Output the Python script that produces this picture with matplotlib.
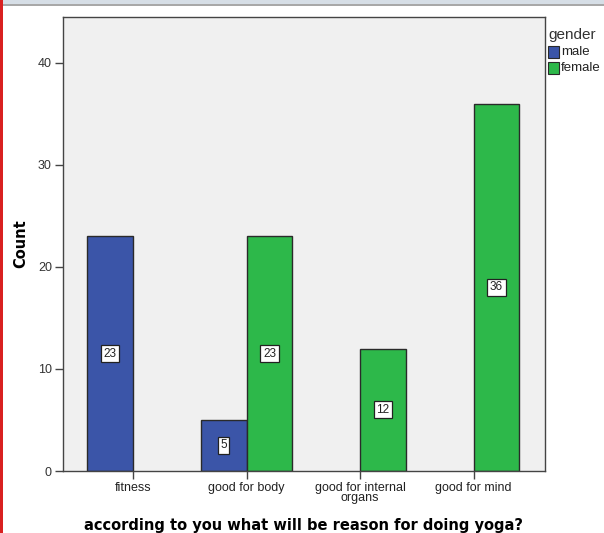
import matplotlib
matplotlib.use("Agg")
import matplotlib.pyplot as plt
import numpy as np
from matplotlib.patches import Rectangle

categories = ["fitness", "good for body", "good for internal\norgans", "good for mind"]
male = [23, 5, 0, 0]
female = [0, 23, 12, 36]
yticks = [0, 10, 20, 30, 40]

male_color = "#3B55A8"
female_color = "#2DB84A"
edge = "#2a2a2a"

fig = plt.figure(figsize=(6.04, 5.33), dpi=100)
fig.patch.set_facecolor("white")

# window chrome: top band and left red stripe
fig.add_artist(Rectangle((0, 1 - 4 / 533), 1, 4 / 533, transform=fig.transFigure,
                         facecolor="#D6DEE6", edgecolor="none"))
fig.add_artist(Rectangle((0, 1 - 6 / 533), 1, 2 / 533, transform=fig.transFigure,
                         facecolor="#A8A8A8", edgecolor="none"))
fig.add_artist(Rectangle((0, 0), 3 / 604, 1, transform=fig.transFigure,
                         facecolor="#D92020", edgecolor="none"))

ax = fig.add_axes([63 / 604, 62 / 533, 482 / 604, 454 / 533])
ax.set_facecolor("#F0F0F0")

x = np.arange(len(categories))
w = 0.405

label_kw = dict(ha="center", va="center", fontsize=8.5, family="Liberation Sans", color="#222222",
                bbox=dict(boxstyle="square,pad=0.22", facecolor="white", edgecolor="#222222", linewidth=0.9))

for xi, v in zip(x, male):
    if v > 0:
        ax.bar(xi - w / 2, v, width=w, color=male_color, edgecolor=edge, linewidth=1.0)
        ax.text(xi - w / 2, v / 2, str(v), **label_kw)
for xi, v in zip(x, female):
    if v > 0:
        ax.bar(xi + w / 2, v, width=w, color=female_color, edgecolor=edge, linewidth=1.0)
        ax.text(xi + w / 2, v / 2, str(v), **label_kw)

ax.set_xlim(-0.617, 3.63)
ax.set_ylim(0, 44.5)
ax.set_yticks(yticks)
ax.set_yticklabels([str(t) for t in yticks], fontsize=9, family="Liberation Sans", color="#333333")
ax.set_xticks(x)
ax.set_xticklabels(categories, fontsize=9, family="Liberation Sans", color="#222222", linespacing=0.8)
ax.tick_params(axis="both", direction="out", length=6, width=1.0, color="#444444", pad=2)

for s in ax.spines.values():
    s.set_color("#444444")
    s.set_linewidth(1.0)

ax.set_ylabel("Count", fontsize=10.5, fontweight="bold", family="DejaVu Sans", labelpad=7)
ax.set_xlabel("according to you what will be reason for doing yoga?", fontsize=10.5,
              fontweight="bold", family="DejaVu Sans", labelpad=10)

# legend
fig.text(548 / 604, 1 - 35 / 533, "gender", fontsize=11, family="Liberation Sans",
         color="#333333", va="center", ha="left")
for i, (lab, col) in enumerate([("male", male_color), ("female", female_color)]):
    yc = 52 + i * 16
    fig.add_artist(Rectangle((548 / 604, 1 - (yc + 5.5) / 533), 11 / 604, 11 / 533,
                             transform=fig.transFigure, facecolor=col, edgecolor=edge, linewidth=0.8))
    fig.text(561 / 604, 1 - yc / 533, lab, fontsize=9.5, family="Liberation Sans",
             color="#222222", va="center", ha="left")

fig.savefig("out.png", dpi=100)
